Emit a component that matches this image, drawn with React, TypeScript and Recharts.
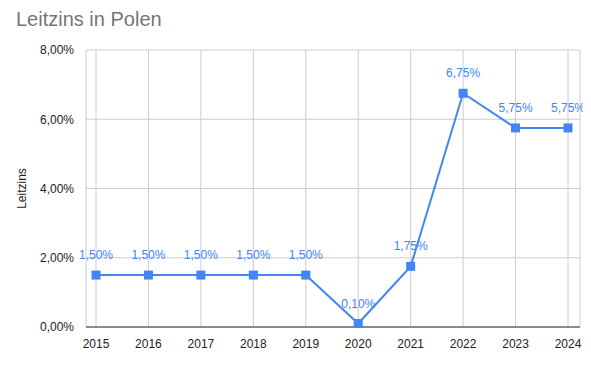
import { LineChart, Line, XAxis, YAxis, CartesianGrid, LabelList } from 'recharts';

const years = ['2015', '2016', '2017', '2018', '2019', '2020', '2021', '2022', '2023', '2024'];
const rates = [1.5, 1.5, 1.5, 1.5, 1.5, 0.1, 1.75, 6.75, 5.75, 5.75];
const yTicks = [0, 2, 4, 6, 8];

const data = years.map((year, i) => ({ year, rate: rates[i] }));

const BLUE = '#4285F4';
const FONT = 'Arial, "Liberation Sans", sans-serif';

const fmt = (v: number) => v.toFixed(2).replace('.', ',') + '%';

function SquareDot(props: any) {
  const { cx, cy } = props;
  if (cx == null || cy == null) return null;
  return <rect x={cx - 4.5} y={cy - 4.5} width={9} height={9} fill={BLUE} />;
}

export default function App() {
  return (
    <div style={{ position: 'relative', width: 591, height: 365, margin: -8, background: '#fff', fontFamily: FONT }}>
      <div style={{ position: 'absolute', left: 16, top: 8, fontSize: 20, color: '#757575' }}>
        Leitzins in Polen
      </div>
      <LineChart width={591} height={365} data={data} margin={{ top: 50, right: 11, bottom: 8, left: 26 }}>
        <CartesianGrid stroke="#cccccc" />
        <XAxis
          dataKey="year"
          height={30}
          padding={{ left: 10, right: 12 }}
          tick={{ fontSize: 12, fill: '#222', fontFamily: FONT }}
          tickLine={false}
          axisLine={{ stroke: '#333' }}
          tickMargin={6}
        />
        <YAxis
          domain={[0, 8]}
          ticks={yTicks}
          tickFormatter={fmt}
          tick={{ fontSize: 12, fill: '#222', fontFamily: FONT }}
          tickLine={false}
          axisLine={false}
          width={60}
          tickMargin={6}
          label={{ value: 'Leitzins', angle: -90, position: 'insideLeft', offset: -4, style: { fontSize: 12, fill: '#222', fontFamily: FONT, textAnchor: 'middle' } }}
        />
        <Line
          dataKey="rate"
          stroke={BLUE}
          strokeWidth={2}
          dot={<SquareDot />}
          isAnimationActive={false}
        >
          <LabelList dataKey="rate" position="top" offset={16} formatter={fmt as any} style={{ fontSize: 12, fill: BLUE, fontFamily: FONT }} />
        </Line>
      </LineChart>
    </div>
  );
}
